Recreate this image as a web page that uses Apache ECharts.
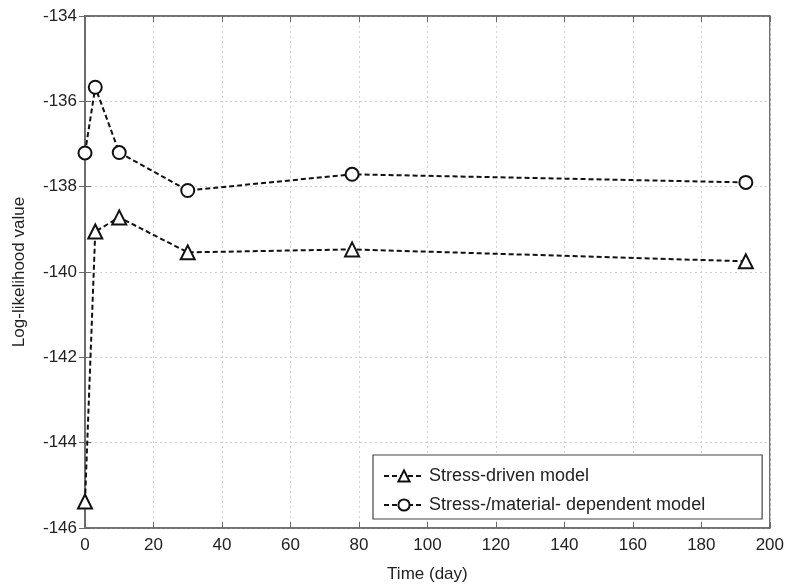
<!DOCTYPE html>
<html>
<head>
<meta charset="utf-8">
<script src="https://cdn.jsdelivr.net/npm/echarts@6/dist/echarts.min.js"></script>
<style>
html, body { margin: 0; padding: 0; background: #fff; }
#root { width: 787px; height: 588px; }
</style>
</head>
<body>
<div id="root"></div>
<script>
var days = [0, 3, 10, 30, 78, 193];
var stressDriven = [-145.38, -139.05, -138.72, -139.54, -139.47, -139.75];
var stressMaterial = [-137.21, -135.67, -137.2, -138.09, -137.71, -137.9];
var seriesNames = ['Stress-driven model', 'Stress-/material- dependent model'];

function pairs(xs, ys) {
	var out = [];
	for (var i = 0; i < xs.length; i++) out.push([xs[i], ys[i]]);
	return out;
}

var font = 'Liberation Sans, Arial, sans-serif';
var axisGrey = '#6a6a6a';
var textCol = '#222';
var gridLine = { show: true, lineStyle: { color: '#d2d2d2', type: [2, 3], width: 1 } };

var chart = echarts.init(document.getElementById('root'));

var lineStyle = { color: '#111', width: 2, type: [5, 3] };

var option = {
	backgroundColor: '#fff',
	animation: false,
	grid: { left: 85, right: 16, top: 16, bottom: 57, show: true, borderColor: axisGrey, borderWidth: 1.5 },
	legend: {
		orient: 'vertical',
		left: 373,
		top: 455,
		backgroundColor: '#fff',
		borderColor: '#444',
		borderWidth: 1.2,
		borderRadius: 0,
		padding: [12, 57, 5, 10],
		itemGap: 11,
		itemWidth: 40,
		itemHeight: 14,
		textStyle: { fontFamily: font, fontSize: 18, color: textCol },
		data: seriesNames
	},
	xAxis: [{
		type: 'value', min: 0, max: 200, interval: 20,
		name: 'Time (day)', nameLocation: 'middle', nameGap: 38,
		nameTextStyle: { fontFamily: font, fontSize: 17, color: textCol },
		axisLine: { show: true, lineStyle: { color: axisGrey, width: 1.5 } },
		axisTick: { show: true, inside: true, length: 6, lineStyle: { color: axisGrey } },
		axisLabel: { fontFamily: font, fontSize: 17, color: textCol, margin: 9 },
		splitLine: gridLine
	}, {
		type: 'value', min: 0, max: 200, interval: 20, position: 'top',
		axisLine: { show: true, lineStyle: { color: axisGrey, width: 1.5 } },
		axisTick: { show: true, inside: true, length: 6, lineStyle: { color: axisGrey } },
		axisLabel: { show: false }, splitLine: { show: false }
	}],
	yAxis: [{
		type: 'value', min: -146, max: -134, interval: 2,
		name: 'Log-likelihood value', nameLocation: 'middle', nameGap: 57, nameRotate: 90,
		nameTextStyle: { fontFamily: font, fontSize: 17, color: textCol },
		axisLine: { show: true, lineStyle: { color: axisGrey, width: 1.5 } },
		axisTick: { show: true, inside: true, length: 6, lineStyle: { color: axisGrey } },
		axisLabel: { fontFamily: font, fontSize: 17, color: textCol, margin: 8 },
		splitLine: gridLine
	}, {
		type: 'value', min: -146, max: -134, interval: 2, position: 'right',
		axisLine: { show: true, lineStyle: { color: axisGrey, width: 1.5 } },
		axisTick: { show: true, inside: true, length: 6, lineStyle: { color: axisGrey } },
		axisLabel: { show: false }, splitLine: { show: false }
	}],
	series: [{
		name: seriesNames[0],
		type: 'line',
		data: pairs(days, stressDriven),
		symbol: 'emptyTriangle',
		symbolSize: 14,
		lineStyle: lineStyle,
		itemStyle: { color: '#111', borderWidth: 2 }
	}, {
		name: seriesNames[1],
		type: 'line',
		data: pairs(days, stressMaterial),
		symbol: 'emptyCircle',
		symbolSize: 13,
		lineStyle: lineStyle,
		itemStyle: { color: '#111', borderWidth: 2 }
	}]
};

chart.setOption(option);
</script>
</body>
</html>
